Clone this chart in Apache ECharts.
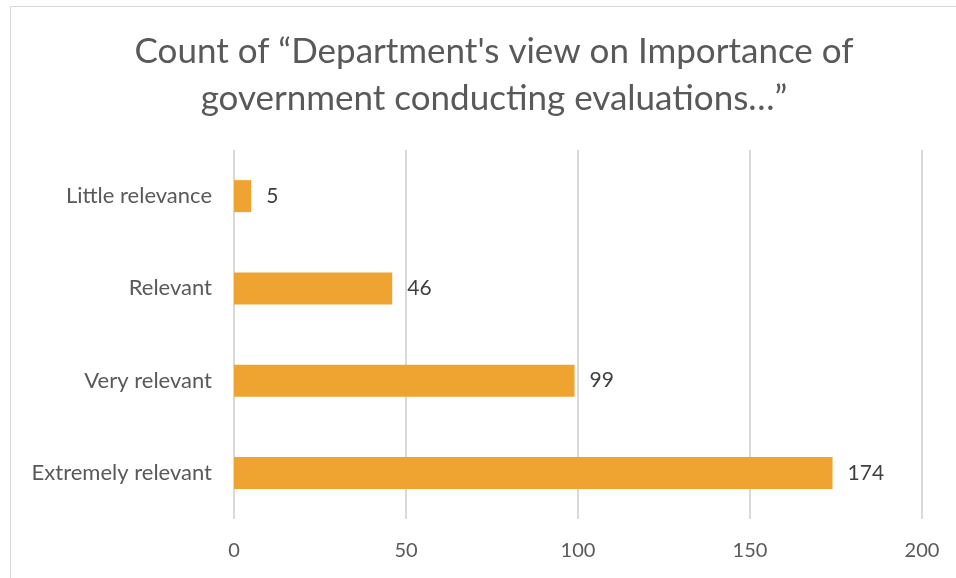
<!DOCTYPE html>
<html>
<head>
<meta charset="utf-8">
<script src="https://cdn.jsdelivr.net/npm/echarts@6/dist/echarts.min.js"></script>
<style>
  html, body { margin: 0; padding: 0; background: #fff; overflow: hidden; }
  #frame { position: absolute; left: 10px; top: 6px; width: 1000px; height: 700px;
           border-top: 1px solid #d9d9d9; border-left: 1px solid #d9d9d9; }
  #chart { position: absolute; left: 0; top: 0; width: 956px; height: 578px; }
</style>
</head>
<body>
<div id="frame"></div>
<div id="chart"></div>
<script>
// categories listed bottom to top (category axis starts at the bottom)
const categories = ['Extremely relevant', 'Very relevant', 'Relevant', 'Little relevance'];
const counts = [174, 99, 46, 5];
const xTicks = [0, 50, 100, 150, 200];

const titleText = 'Count of \u201CDepartment\'s view on Importance of\ngovernment conducting evaluations\u2026\u201D';
const fontFamily = 'Lato, "Open Sans", sans-serif';

const chart = echarts.init(document.getElementById('chart'), null, { renderer: 'canvas' });

chart.setOption({
  backgroundColor: 'transparent',
  animation: false,
  title: {
    text: titleText,
    left: 489,
    textAlign: 'center',
    top: 23,
    textStyle: {
      fontFamily: fontFamily,
      fontSize: 35,
      fontWeight: 'normal',
      color: '#595959',
      lineHeight: 47
    }
  },
  grid: { left: 234, right: 34, top: 150, bottom: 59, containLabel: false },
  xAxis: {
    type: 'value',
    min: xTicks[0],
    max: xTicks[xTicks.length - 1],
    interval: 50,
    axisLine: { show: false },
    axisTick: { show: false },
    splitLine: { lineStyle: { color: '#d9d9d9', width: 2 } },
    axisLabel: { color: '#595959', fontSize: 20, fontFamily: fontFamily, margin: 22 }
  },
  yAxis: {
    type: 'category',
    data: categories,
    axisLine: { show: false },
    axisTick: { show: false },
    axisLabel: { color: '#595959', fontSize: 22, fontFamily: fontFamily, margin: 22 }
  },
  series: [{
    type: 'bar',
    data: counts,
    barWidth: 32,
    itemStyle: { color: '#EFA331' },
    label: {
      show: true,
      position: 'right',
      distance: 15,
      color: '#404040',
      fontSize: 21,
      fontFamily: fontFamily
    }
  }]
});
</script>
</body>
</html>
